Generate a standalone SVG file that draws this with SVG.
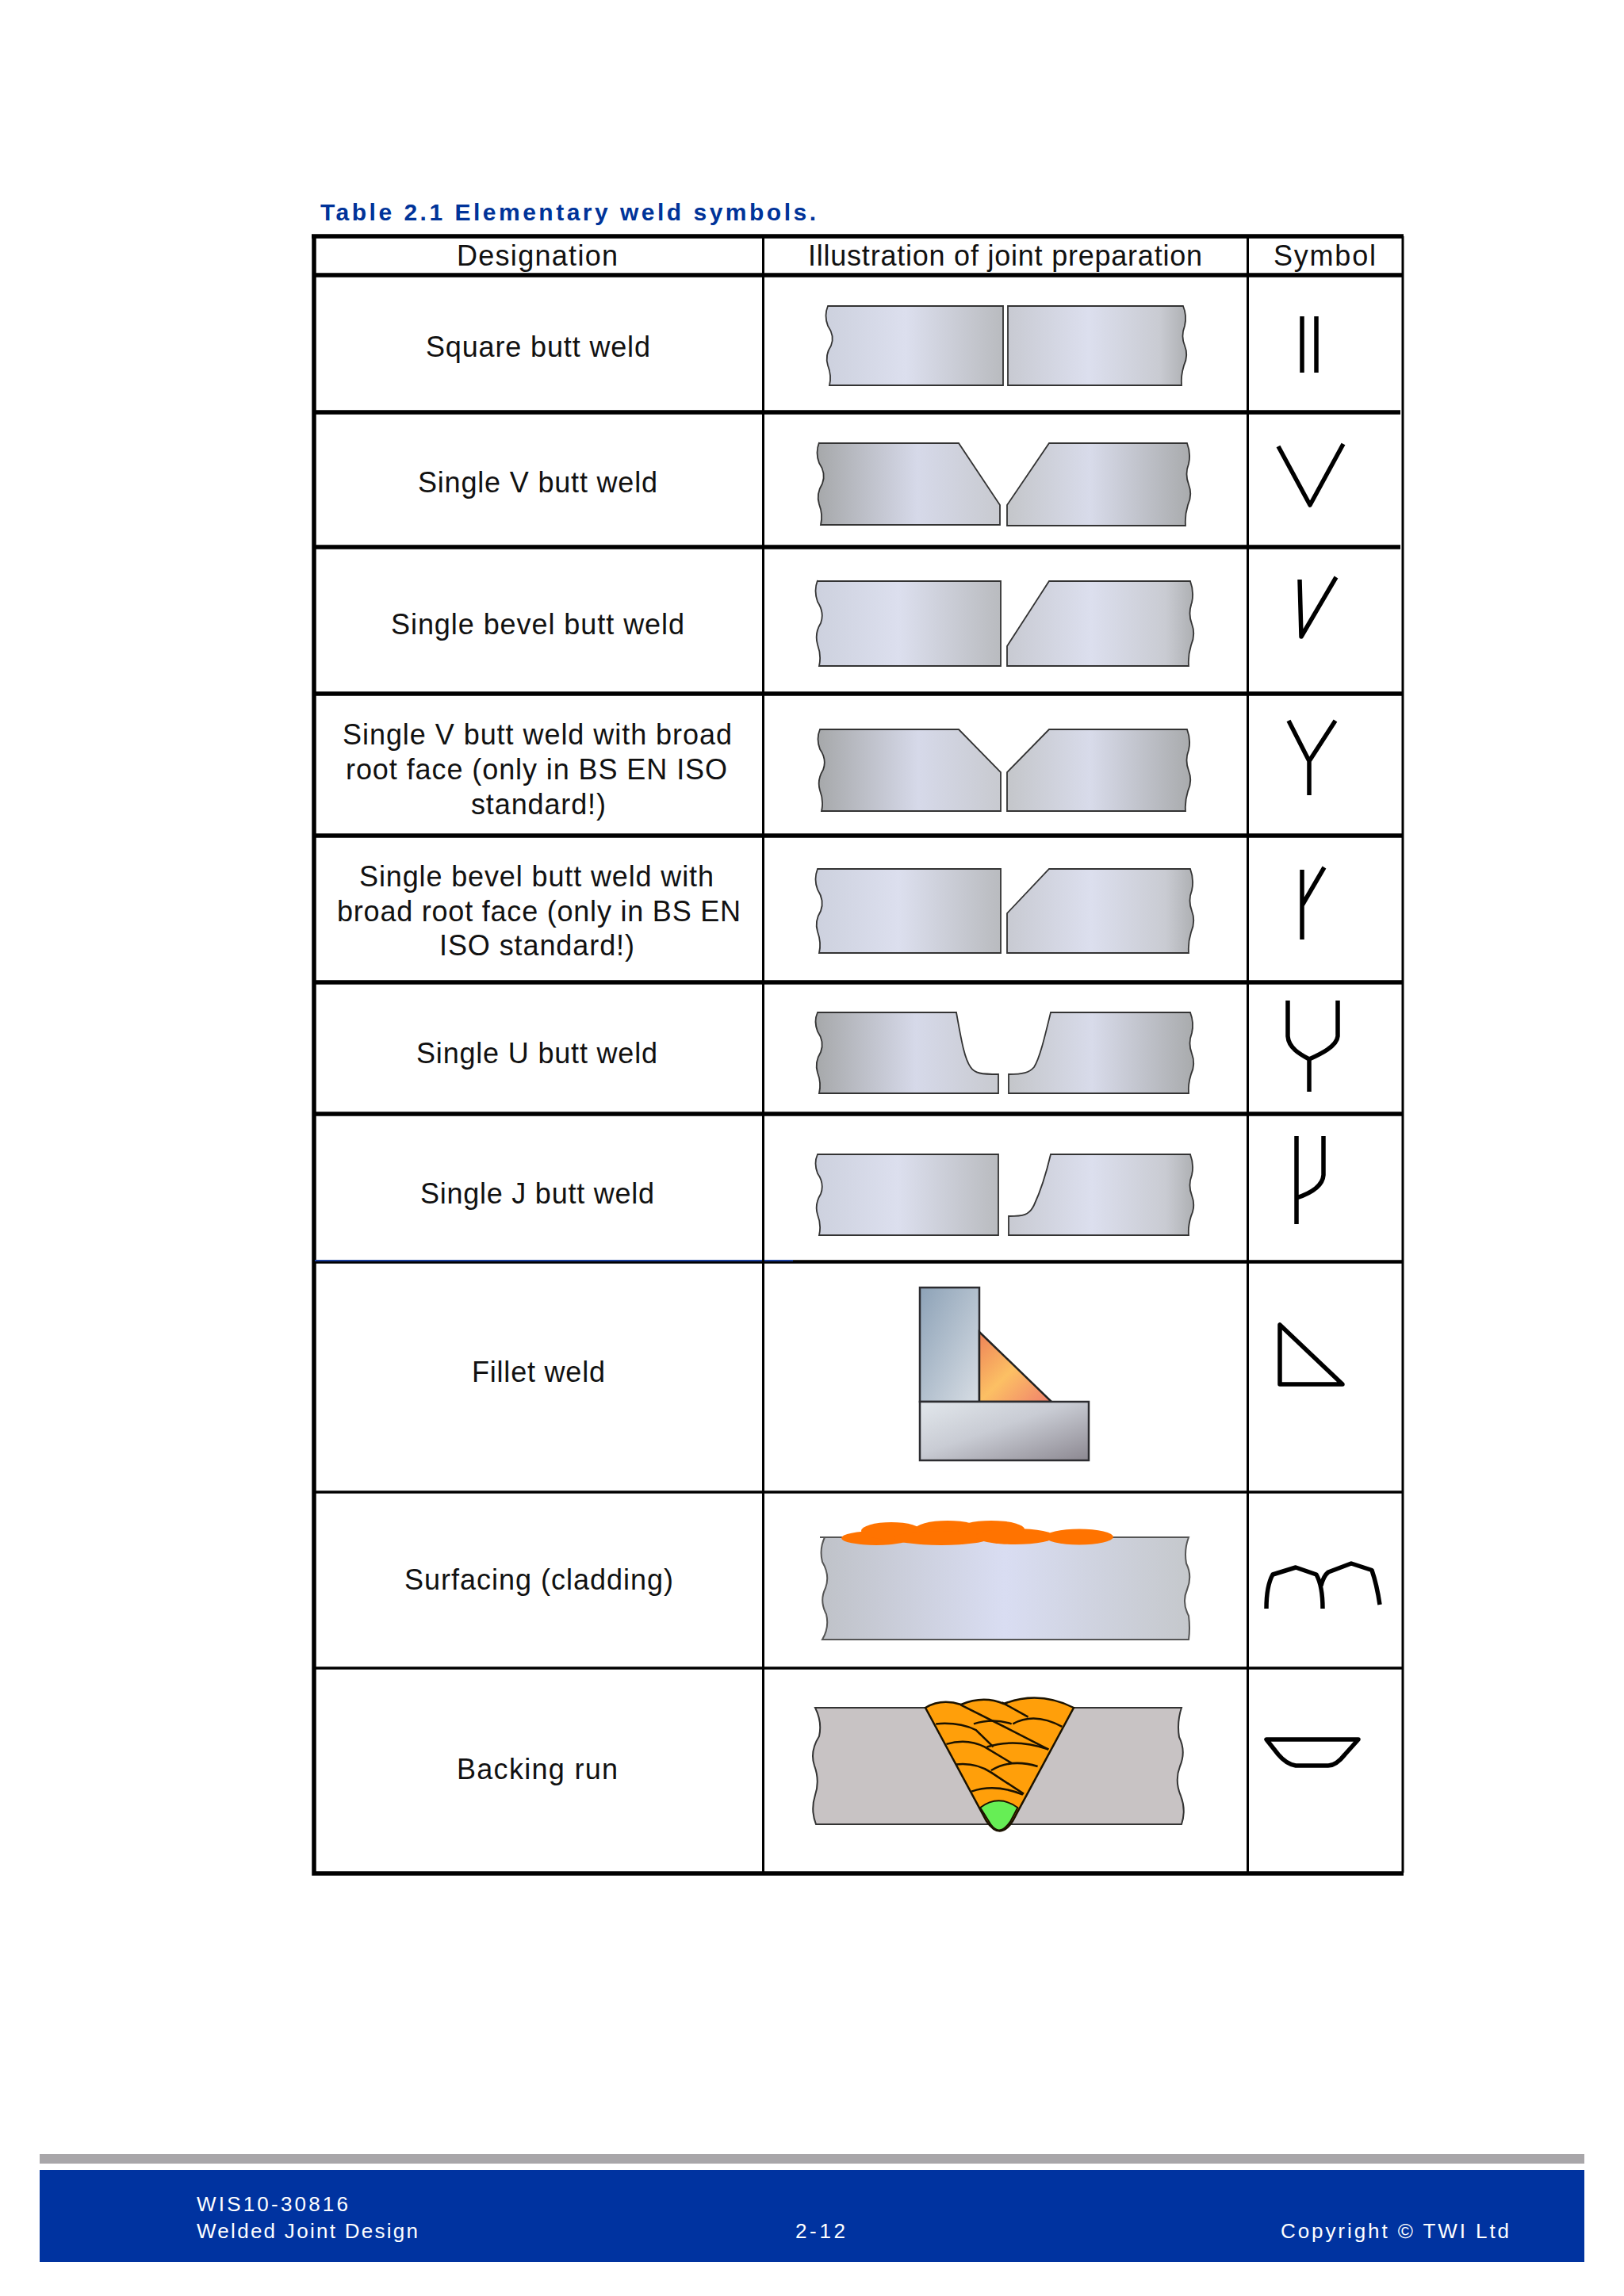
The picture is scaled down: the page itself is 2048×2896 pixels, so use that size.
<svg xmlns="http://www.w3.org/2000/svg" width="2048" height="2896" viewBox="0 0 2048 2896">
<style>
text{font-family:"Liberation Sans",Arial,sans-serif}
.t{font-size:36px;fill:#111;text-anchor:start}
.f{font-size:26px;fill:#fff}
.thick{stroke:#000;stroke-width:5.5;fill:none}
.thin{stroke:#000;stroke-width:3;fill:none}
.p{stroke:#333;stroke-width:1.8;stroke-linejoin:miter}
.s{stroke:#000;stroke-width:5.5;fill:none;stroke-linejoin:round}
.w{stroke:#1a1200;stroke-width:2.5;fill:none}
.a{fill:url(#ga)}.b{fill:url(#gb)}.c{fill:url(#gc)}.d{fill:url(#gd)}
</style>
<defs>
<linearGradient id="ga"><stop offset="0" stop-color="#cdd1de"/><stop offset=".45" stop-color="#dcdfee"/><stop offset="1" stop-color="#b9bbbf"/></linearGradient>
<linearGradient id="gb"><stop offset="0" stop-color="#c8cad2"/><stop offset=".45" stop-color="#dcdfee"/><stop offset=".85" stop-color="#c9cbd2"/><stop offset="1" stop-color="#aeb0b3"/></linearGradient>
<linearGradient id="gc"><stop offset="0" stop-color="#a6a8aa"/><stop offset=".55" stop-color="#d6d9e9"/><stop offset="1" stop-color="#c8cad0"/></linearGradient>
<linearGradient id="gd"><stop offset="0" stop-color="#c4c6ca"/><stop offset=".45" stop-color="#d8dbea"/><stop offset="1" stop-color="#a9abad"/></linearGradient>
<linearGradient id="gs"><stop offset="0" stop-color="#bfc2c8"/><stop offset=".5" stop-color="#d9ddf2"/><stop offset="1" stop-color="#c5c8cc"/></linearGradient>
<linearGradient id="gu" x1="0" y1="0" x2="1" y2="1"><stop offset="0" stop-color="#8da2b7"/><stop offset="1" stop-color="#d7dde4"/></linearGradient>
<linearGradient id="gl" x1="0" y1="0" x2="1" y2="1"><stop offset="0" stop-color="#e2e7ec"/><stop offset=".45" stop-color="#c9ccd4"/><stop offset="1" stop-color="#8c8891"/></linearGradient>
<linearGradient id="gt" x1="0" y1="0" x2="1" y2="1"><stop offset="0" stop-color="#ee8258"/><stop offset=".5" stop-color="#fcc064"/><stop offset="1" stop-color="#f0806c"/></linearGradient>
</defs>
<rect width="2048" height="2896" fill="#fff"/>
<text x="404" y="278" font-size="30" font-weight="bold" fill="#003399" textLength="625" lengthAdjust="spacing">Table 2.1 Elementary weld symbols.</text>

<g id="table-grid">
<path class="thick" d="M396,296V2363H1770M393,298H1770M397,347H1768M397,520H1766M397,690H1766M397,875H1769M397,1054H1769M397,1239H1769M397,1405H1769"/>
<path d="M397,1591.5H1769" stroke="#000" stroke-width="4.5" fill="none"/>
<path d="M397,1590H1000" stroke="#1c3f9c" stroke-width="2" fill="none"/>
<path class="thin" d="M962.5,298V2362M1573.5,298V2362M1769,298V2362"/>
<path d="M397,1882H1769M397,2104H1769" stroke="#000" stroke-width="3.5" fill="none"/>
</g>

<g id="header">
<text class="t" x="576" y="335" textLength="203">Designation</text>
<text class="t" x="1019" y="335" textLength="497">Illustration of joint preparation</text>
<text class="t" x="1606" y="335" textLength="129">Symbol</text>
</g>

<g id="row-square">
<text class="t" x="537" y="450" textLength="283">Square butt weld</text>
<path class="p a" d="M1044,386H1265V486H1046q3,-12 -2,-25q-4,-13 4,-25q5,-12 -4,-25q-5,-13 0,-25Z"/>
<path class="p b" d="M1271,386H1492q5,12 2,25q-5,13 0,25q5,12 -1,25q-4,13 -3,25H1271Z"/>
<path class="s" d="M1642,399V470M1660,399V470"/>
</g>

<g id="row-v">
<text class="t" x="527" y="621" textLength="302">Single V butt weld</text>
<path class="p c" d="M1033,559H1209L1261,637V662H1035q3,-13 -2,-26q-4,-13 4,-26q5,-13 -4,-26q-5,-13 0,-26Z"/>
<path class="p d" d="M1323,559H1497q5,13 2,26q-5,13 0,26q5,13 -1,26q-4,13 -3,26H1270V637Z"/>
<path class="s" d="M1612,563L1652,637L1694,560"/>
</g>

<g id="row-bevel">
<text class="t" x="493" y="800" textLength="370">Single bevel butt weld</text>
<path class="p a" d="M1031,733H1262V840H1033q3,-13 -2,-27q-4,-14 4,-27q5,-13 -4,-27q-5,-14 0,-27Z"/>
<path class="p b" d="M1323,733H1501q5,13 2,27q-5,14 0,27q5,13 -1,27q-4,13 -3,26H1270V815Z"/>
<path class="s" d="M1639,731L1641,803L1685,728"/>
</g>

<g id="row-v-root">
<text class="t" x="432" y="939" textLength="491">Single V butt weld with broad</text>
<text class="t" x="436" y="983" textLength="481">root face (only in BS EN ISO</text>
<text class="t" x="594" y="1027" textLength="170">standard!)</text>
<path class="p c" d="M1034,920H1209L1262,974V1023H1036q3,-13 -2,-26q-4,-13 4,-26q5,-13 -4,-26q-5,-13 0,-25Z"/>
<path class="p d" d="M1323,920H1497q5,13 2,26q-5,13 0,26q5,13 -1,26q-4,13 -3,25H1270V974Z"/>
<path class="s" d="M1625,909L1651,960L1684,909M1651,960V1003"/>
</g>

<g id="row-bevel-root">
<text class="t" x="453" y="1118" textLength="447">Single bevel butt weld with</text>
<text class="t" x="425" y="1162" textLength="509">broad root face (only in BS EN</text>
<text class="t" x="554" y="1205" textLength="246">ISO standard!)</text>
<path class="p a" d="M1031,1096H1262V1202H1033q3,-13 -2,-27q-4,-13 4,-26q5,-13 -4,-27q-5,-13 0,-26Z"/>
<path class="p b" d="M1323,1096H1501q5,13 2,27q-5,13 0,26q5,13 -1,27q-4,13 -3,26H1270V1152Z"/>
<path class="s" d="M1642,1097V1185M1670,1094L1642,1142"/>
</g>

<g id="row-u">
<text class="t" x="525" y="1341" textLength="304">Single U butt weld</text>
<path class="p c" d="M1031,1277H1206C1212,1310 1216,1335 1224,1346C1229,1354 1238,1355 1259,1355V1379H1033q3,-13 -2,-26q-4,-13 4,-26q5,-13 -4,-26q-5,-13 0,-24Z"/>
<path class="p d" d="M1325,1277H1501q5,13 2,26q-5,13 0,26q5,13 -1,26q-4,13 -3,24H1272V1355C1290,1355 1298,1353 1304,1346C1311,1335 1317,1310 1325,1277Z"/>
<path class="s" d="M1624,1262V1307C1625,1322 1640,1330 1651,1336C1664,1330 1686,1320 1687,1307V1262M1651,1336V1377"/>
</g>

<g id="row-j">
<text class="t" x="530" y="1518" textLength="295">Single J butt weld</text>
<path class="p a" d="M1031,1456H1259V1558H1033q3,-13 -2,-26q-4,-13 4,-26q5,-13 -4,-26q-5,-13 0,-24Z"/>
<path class="p b" d="M1325,1456H1501q5,13 2,26q-5,13 0,26q5,13 -1,26q-4,13 -3,24H1272V1534C1290,1534 1298,1533 1304,1520C1311,1505 1317,1490 1325,1456Z"/>
<path class="s" d="M1635,1433V1544M1669,1433V1482C1668,1497 1650,1506 1635,1511"/>
</g>

<g id="row-fillet">
<text class="t" x="595" y="1743" textLength="168">Fillet weld</text>
<rect x="1160" y="1624" width="75" height="144" fill="url(#gu)" stroke="#2c2c30" stroke-width="2.5"/>
<path d="M1235,1680L1326,1768H1235Z" fill="url(#gt)" stroke="#222" stroke-width="2.5"/>
<rect x="1160" y="1768" width="213" height="74" fill="url(#gl)" stroke="#2c2c30" stroke-width="2.5"/>
<path class="s" d="M1614,1671V1746H1693Z"/>
</g>

<g id="row-surfacing">
<text class="t" x="510" y="2005" textLength="339">Surfacing (cladding)</text>
<path d="M1034,1939H1499q-6,16 -3,33q8,16 1,33q-7,16 2,33q2,16 0,30H1037q9,-15 5,-32q-9,-17 -1,-33q6,-16 -4,-33q-4,-16 3,-31Z" fill="url(#gs)" stroke="#555" stroke-width="2"/>
<g fill="#ff7300">
<ellipse cx="1105" cy="1940" rx="44" ry="9"/><ellipse cx="1124" cy="1931" rx="38" ry="11"/>
<ellipse cx="1195" cy="1929" rx="41" ry="11"/><ellipse cx="1250" cy="1929" rx="42" ry="11"/>
<ellipse cx="1187" cy="1940" rx="60" ry="9"/><ellipse cx="1280" cy="1938" rx="50" ry="10"/>
<ellipse cx="1361" cy="1938.5" rx="43" ry="10"/>
</g>
<path class="s" d="M1597,2029C1597,2010 1600,1995 1605,1986L1634,1977L1660,1986C1665,1995 1668,2010 1668,2029M1666,2000C1668,1992 1670,1987 1675,1983L1704,1972L1730,1980.5C1735,1995 1738,2010 1740,2024"/>
</g>

<g id="row-backing">
<text class="t" x="576" y="2244" textLength="203">Backing run</text>
<path d="M1028,2154H1490q-6,18 -3,37q9,18 1,37q-7,18 1,37q7,18 1,36H1029q-7,-18 -1,-37q6,-18 -1,-37q-6,-18 6,-37q4,-18 -5,-36Z" fill="#c8c3c4" stroke="#333" stroke-width="2"/>
<path d="M1167,2154Q1187,2142 1212,2150Q1240,2138 1266,2149Q1310,2132 1354,2154L1277,2297Q1261,2322 1244,2297Z" fill="#ff9f0a" stroke="#1a1200" stroke-width="2.5"/>
<g transform="translate(940,1580) scale(.5485,.5102)">
<path class="w" vector-effect="non-scaling-stroke" d="M438,1165Q490,1160 530,1180L570,1222"/>
<path class="w" vector-effect="non-scaling-stroke" d="M495,1118L610,1180L697,1228"/>
<path class="w" vector-effect="non-scaling-stroke" d="M590,1112L650,1148"/>
<path class="w" vector-effect="non-scaling-stroke" d="M525,1165Q570,1150 612,1165"/>
<path class="w" vector-effect="non-scaling-stroke" d="M615,1165Q665,1135 728,1172"/>
<path class="w" vector-effect="non-scaling-stroke" d="M462,1215Q510,1200 550,1222L612,1262"/>
<path class="w" vector-effect="non-scaling-stroke" d="M555,1222Q620,1200 697,1228"/>
<path class="w" vector-effect="non-scaling-stroke" d="M485,1265Q530,1260 565,1285L640,1338"/>
<path class="w" vector-effect="non-scaling-stroke" d="M565,1280Q610,1250 672,1270"/>
<path class="w" vector-effect="non-scaling-stroke" d="M520,1332Q575,1312 638,1340"/>
<path vector-effect="non-scaling-stroke" d="M540,1372Q582,1338 626,1372L610,1405Q585,1445 565,1415Z" fill="#66ee55" stroke="#1a1200" stroke-width="2"/>
</g>
<path class="s" d="M1597,2194H1713L1696,2213Q1685,2227 1675,2227H1634Q1622,2225 1612,2213Z"/>
</g>

<g id="footer">
<rect x="50" y="2717" width="1948" height="12" fill="#a8a6a9"/>
<rect x="50" y="2737" width="1948" height="116" fill="#0033a0"/>
<text class="f" x="248" y="2789" textLength="191">WIS10-30816</text>
<text class="f" x="248" y="2823" textLength="279">Welded Joint Design</text>
<text class="f" x="1003" y="2823" textLength="63">2-12</text>
<text class="f" x="1615" y="2823" textLength="288">Copyright © TWI Ltd</text>
</g>
</svg>
